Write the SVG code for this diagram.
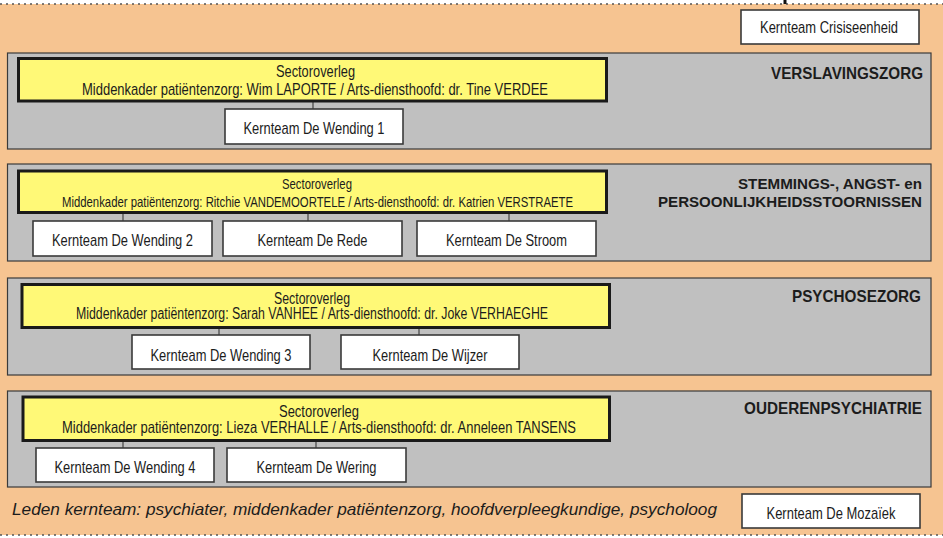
<svg xmlns="http://www.w3.org/2000/svg" width="943" height="538" viewBox="0 0 943 538">
<style>
.bg{fill:#F6C491}
.dots{stroke:#555;stroke-width:1.5;stroke-dasharray:2 4;fill:none}
.panel{fill:#C0C0C0;stroke:#3a3a3a;stroke-width:1.2}
.sector{fill:#FFF977;stroke:#1a1a1a;stroke-width:3}
.team{fill:#FFFFFF;stroke:#3a3a3a;stroke-width:1.6}
.conn line{stroke:#444;stroke-width:1.2}
text{font-family:"Liberation Sans",Arial,sans-serif;fill:#1c1c1c}
.t{font-size:17px;text-anchor:middle}
.h{font-size:16.5px;font-weight:bold;text-anchor:end}
.f{font-size:16.5px;font-style:italic}
</style>
<rect x="0" y="0" width="943" height="538" fill="#FFFFFF"/>
<rect class="bg" x="0" y="4" width="943" height="531"/>
<line class="dots" x1="0" y1="4" x2="943" y2="4"/>
<line class="dots" x1="0" y1="535" x2="943" y2="535"/>

<g id="sector-verslaving">
<rect class="panel" x="7.5" y="53" width="923.5" height="96"/>
<text class="h" x="923" y="79" textLength="152" lengthAdjust="spacingAndGlyphs">VERSLAVINGSZORG</text>
</g>
<g id="sector-stemming">
<rect class="panel" x="7.5" y="164" width="923.5" height="97"/>
<text class="h" x="922" y="189" style="font-size:15.5px" textLength="184" lengthAdjust="spacingAndGlyphs">STEMMINGS-, ANGST- en</text>
<text class="h" x="922" y="206.5" style="font-size:15.5px" textLength="264" lengthAdjust="spacingAndGlyphs">PERSOONLIJKHEIDSSTOORNISSEN</text>
</g>
<g id="sector-psychose">
<rect class="panel" x="7.5" y="278" width="923.5" height="97"/>
<text class="h" x="921" y="302" textLength="129" lengthAdjust="spacingAndGlyphs">PSYCHOSEZORG</text>
</g>
<g id="sector-ouderen">
<rect class="panel" x="7.5" y="391" width="923.5" height="96"/>
<text class="h" x="922" y="414" textLength="178" lengthAdjust="spacingAndGlyphs">OUDERENPSYCHIATRIE</text>
</g>

<g id="connectors" class="conn">
<line x1="785" y1="0" x2="785" y2="4" style="stroke:#111;stroke-width:3"/>
<line x1="313" y1="101" x2="313" y2="109"/>
<line x1="123" y1="212.5" x2="123" y2="221"/>
<line x1="308" y1="212.5" x2="308" y2="221"/>
<line x1="509" y1="212.5" x2="509" y2="221"/>
<line x1="219" y1="327.5" x2="219" y2="335"/>
<line x1="419" y1="327.5" x2="419" y2="335"/>
<line x1="123" y1="440.5" x2="123" y2="448"/>
<line x1="316" y1="440.5" x2="316" y2="448"/>
</g>

<g id="overleg-1">
<rect class="sector" x="18.5" y="58.5" width="588" height="42.5"/>
<text class="t" x="315.5" y="77" textLength="79" lengthAdjust="spacingAndGlyphs">Sectoroverleg</text>
<text class="t" x="315" y="95" textLength="466" lengthAdjust="spacingAndGlyphs">Middenkader patiëntenzorg: Wim LAPORTE / Arts-diensthoofd: dr. Tine VERDEE</text>
</g>
<g id="overleg-2">
<rect class="sector" x="18.5" y="171" width="588" height="41.5"/>
<text class="t" x="317" y="189" style="font-size:15px" textLength="70" lengthAdjust="spacingAndGlyphs">Sectoroverleg</text>
<text class="t" x="317.5" y="207" style="font-size:15px" textLength="511" lengthAdjust="spacingAndGlyphs">Middenkader patiëntenzorg: Ritchie VANDEMOORTELE / Arts-diensthoofd: dr. Katrien VERSTRAETE</text>
</g>
<g id="overleg-3">
<rect class="sector" x="22" y="284.5" width="587.5" height="43"/>
<text class="t" x="312" y="303.5" style="font-size:16px" textLength="76" lengthAdjust="spacingAndGlyphs">Sectoroverleg</text>
<text class="t" x="312" y="319" style="font-size:16px" textLength="472" lengthAdjust="spacingAndGlyphs">Middenkader patiëntenzorg: Sarah VANHEE / Arts-diensthoofd: dr. Joke VERHAEGHE</text>
</g>
<g id="overleg-4">
<rect class="sector" x="23" y="397" width="586.5" height="43.5"/>
<text class="t" x="319" y="416.5" style="font-size:16.5px" textLength="80" lengthAdjust="spacingAndGlyphs">Sectoroverleg</text>
<text class="t" x="319" y="433" style="font-size:16.5px" textLength="514" lengthAdjust="spacingAndGlyphs">Middenkader patiëntenzorg: Lieza VERHALLE / Arts-diensthoofd: dr. Anneleen TANSENS</text>
</g>

<g id="kt-crisis">
<rect class="team" x="741" y="10" width="178" height="34"/>
<text class="t" x="829" y="33" textLength="138" lengthAdjust="spacingAndGlyphs">Kernteam Crisiseenheid</text>
</g>
<g id="kt-wending1">
<rect class="team" x="225" y="109" width="178" height="35"/>
<text class="t" x="314" y="134" textLength="141" lengthAdjust="spacingAndGlyphs">Kernteam De Wending 1</text>
</g>
<g id="kt-wending2">
<rect class="team" x="33" y="221" width="179" height="35"/>
<text class="t" x="122.5" y="246" textLength="141" lengthAdjust="spacingAndGlyphs">Kernteam De Wending 2</text>
</g>
<g id="kt-rede">
<rect class="team" x="223" y="221" width="179" height="35"/>
<text class="t" x="312.5" y="246" textLength="110" lengthAdjust="spacingAndGlyphs">Kernteam De Rede</text>
</g>
<g id="kt-stroom">
<rect class="team" x="417" y="221" width="179" height="35"/>
<text class="t" x="506.5" y="246" textLength="121" lengthAdjust="spacingAndGlyphs">Kernteam De Stroom</text>
</g>
<g id="kt-wending3">
<rect class="team" x="132" y="335" width="178" height="34"/>
<text class="t" x="221" y="361" textLength="141" lengthAdjust="spacingAndGlyphs">Kernteam De Wending 3</text>
</g>
<g id="kt-wijzer">
<rect class="team" x="341" y="335" width="178" height="34"/>
<text class="t" x="430" y="361" textLength="115" lengthAdjust="spacingAndGlyphs">Kernteam De Wijzer</text>
</g>
<g id="kt-wending4">
<rect class="team" x="36" y="448" width="178" height="34"/>
<text class="t" x="125" y="473" textLength="141" lengthAdjust="spacingAndGlyphs">Kernteam De Wending 4</text>
</g>
<g id="kt-wering">
<rect class="team" x="227" y="448" width="179" height="34"/>
<text class="t" x="316.5" y="473" textLength="120" lengthAdjust="spacingAndGlyphs">Kernteam De Wering</text>
</g>
<g id="kt-mozaiek">
<rect class="team" x="742" y="494" width="178" height="34"/>
<text class="t" x="831" y="519" textLength="129" lengthAdjust="spacingAndGlyphs">Kernteam De Mozaïek</text>
</g>

<g id="legend">
<text class="f" x="12" y="515" textLength="705" lengthAdjust="spacingAndGlyphs">Leden kernteam: psychiater, middenkader patiëntenzorg, hoofdverpleegkundige, psycholoog</text>
</g>
</svg>
